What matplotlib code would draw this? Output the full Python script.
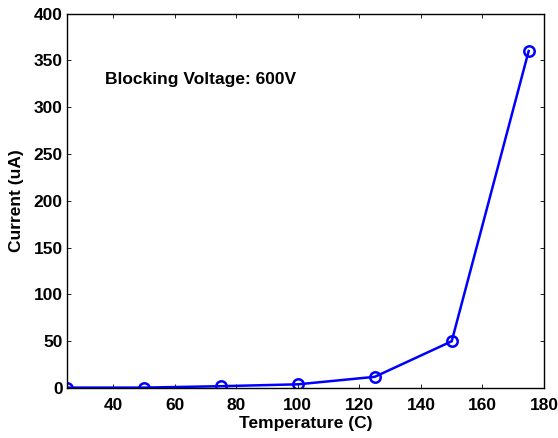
import matplotlib
matplotlib.use("Agg")
import matplotlib.pyplot as plt

plt.rcParams['font.family'] = ['Liberation Sans', 'DejaVu Sans']
plt.rcParams['font.weight'] = 'bold'

temperature = [25, 50, 75, 100, 125, 150, 175]
current = [0.5, 0.5, 2, 4, 12, 50, 360]
xticks = [40, 60, 80, 100, 120, 140, 160, 180]
yticks = [0, 50, 100, 150, 200, 250, 300, 350, 400]

fig = plt.figure(figsize=(5.58, 4.38), dpi=100)
ax = fig.add_axes([0.120, 0.114, 0.855, 0.855])

ax.plot(temperature, current, color='blue', lw=1.8, marker='o',
        markerfacecolor='none', markeredgewidth=1.8, markersize=7.5)

ax.set_xlim(25, 180)
ax.set_ylim(0, 400)
ax.set_xticks(xticks)
ax.set_yticks(yticks)
ax.tick_params(direction='in', top=True, right=True, length=3, width=0.6,
               labelsize=12.5)
ax.tick_params(axis='x', pad=7)
ax.tick_params(axis='y', pad=3)
for lbl in ax.get_xticklabels() + ax.get_yticklabels():
    lbl.set_fontweight('bold')
for s in ax.spines.values():
    s.set_linewidth(1.0)

ax.set_xlabel('Temperature (C)', fontsize=12.5, fontweight='bold', labelpad=2)
ax.set_ylabel('Current (uA)', fontsize=12.5, fontweight='bold', labelpad=7)
ax.text(37.5, 330, 'Blocking Voltage: 600V', fontsize=12.5, fontweight='bold',
        va='center')

fig.savefig('out.png', dpi=100)
